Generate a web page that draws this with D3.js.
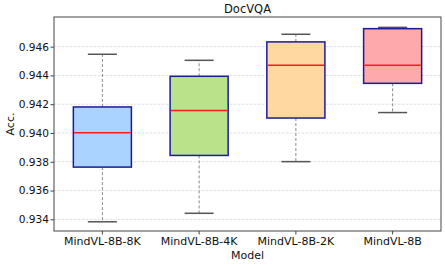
<!DOCTYPE html>
<html>
<head>
<meta charset="utf-8">
<script src="https://cdn.jsdelivr.net/npm/d3@7"></script>
<style>
body { margin: 0; background: #fff; }
</style>
</head>
<body>
<div id="chart"></div>
<script>
// data
var models = ["MindVL-8B-8K", "MindVL-8B-4K", "MindVL-8B-2K", "MindVL-8B"];
var whiskerLow  = [0.93383, 0.93442, 0.93801, 0.94142];
var q1          = [0.93763, 0.93844, 0.94104, 0.94345];
var median      = [0.94002, 0.94157, 0.94470, 0.94470];
var q3          = [0.94181, 0.94394, 0.94633, 0.94725];
var whiskerHigh = [0.94547, 0.94505, 0.94686, 0.94734];
var fills = ["#aad3ff", "#b8e38a", "#ffd7a0", "#ffaaaa"];
var yTicks = [0.934, 0.936, 0.938, 0.940, 0.942, 0.944, 0.946];

var W = 445, H = 265;
var margin = {left: 54, top: 17, right: 4, bottom: 34};

var svg = d3.select("#chart")
    .append("svg")
    .attr("width", W)
    .attr("height", H)
    .style("font-family", "DejaVu Sans");

var x = d3.scaleBand()
    .domain(models)
    .range([margin.left, W - margin.right])
    .paddingInner(0)
    .paddingOuter(0);

var y = d3.scaleLinear()
    .domain([0.93319, 0.94806])
    .range([H - margin.bottom, margin.top]);

// grid lines
svg.append("g")
    .selectAll("line")
    .data(yTicks)
    .join("line")
    .attr("x1", margin.left)
    .attr("x2", W - margin.right)
    .attr("y1", function(d) { return y(d); })
    .attr("y2", function(d) { return y(d); })
    .style("stroke", "#d4d4d4")
    .style("stroke-width", 0.8)
    .style("stroke-dasharray", "2.5,1.5");

// axes
var yAxis = svg.append("g")
    .attr("transform", "translate(" + margin.left + ",0)")
    .call(d3.axisLeft(y).tickValues(yTicks).tickFormat(d3.format(".3f")).tickSizeOuter(0).tickSize(3.5));

var xAxis = svg.append("g")
    .attr("transform", "translate(0," + (H - margin.bottom) + ")")
    .call(d3.axisBottom(x).tickSizeOuter(0).tickSize(3.5));

[yAxis, xAxis].forEach(function(a) {
  a.select(".domain").remove();
  a.selectAll("line").style("stroke", "#444");
  a.selectAll("text")
    .style("font-family", "DejaVu Sans")
    .style("fill", "#111");
});
yAxis.selectAll("text").attr("x", -5).style("font-size", "10.6px");
xAxis.selectAll("text").attr("y", 6).style("font-size", "11px");

var bw = x.bandwidth() * 0.6;

models.forEach(function(m, i) {
  var cx = x(m) + x.bandwidth() / 2;
  var g = svg.append("g");

  // whiskers
  g.append("line")
    .attr("x1", cx).attr("x2", cx)
    .attr("y1", y(q3[i])).attr("y2", y(whiskerHigh[i]))
    .style("stroke", "#888").style("stroke-width", 1).style("stroke-dasharray", "3,2");
  g.append("line")
    .attr("x1", cx).attr("x2", cx)
    .attr("y1", y(q1[i])).attr("y2", y(whiskerLow[i]))
    .style("stroke", "#888").style("stroke-width", 1).style("stroke-dasharray", "3,2");

  // caps
  [whiskerLow[i], whiskerHigh[i]].forEach(function(v) {
    g.append("line")
      .attr("x1", cx - bw / 4).attr("x2", cx + bw / 4)
      .attr("y1", y(v)).attr("y2", y(v))
      .style("stroke", "#555").style("stroke-width", 1.5);
  });

  // box
  g.append("rect")
    .attr("x", cx - bw / 2)
    .attr("y", y(q3[i]))
    .attr("width", bw)
    .attr("height", y(q1[i]) - y(q3[i]))
    .style("fill", fills[i])
    .style("stroke", "#1a1a9a")
    .style("stroke-width", 1.5);

  // median
  g.append("line")
    .attr("x1", cx - bw / 2 + 0.75).attr("x2", cx + bw / 2 - 0.75)
    .attr("y1", y(median[i])).attr("y2", y(median[i]))
    .style("stroke", "#ff1a1a").style("stroke-width", 1.5);
});

// frame
svg.append("rect")
    .attr("x", margin.left)
    .attr("y", margin.top)
    .attr("width", W - margin.right - margin.left)
    .attr("height", H - margin.bottom - margin.top)
    .style("fill", "none")
    .style("stroke", "#444")
    .style("stroke-width", 1);

// title and labels
svg.append("text")
    .attr("x", (margin.left + W - margin.right) / 2)
    .attr("y", 13)
    .attr("text-anchor", "middle")
    .style("font-size", "11.5px")
    .style("fill", "#111")
    .text("DocVQA");

svg.append("text")
    .attr("x", (margin.left + W - margin.right) / 2)
    .attr("y", 259)
    .attr("text-anchor", "middle")
    .style("font-size", "11px")
    .style("fill", "#111")
    .text("Model");

svg.append("text")
    .attr("transform", "translate(14," + ((margin.top + H - margin.bottom) / 2) + ") rotate(-90)")
    .attr("text-anchor", "middle")
    .style("font-size", "11px")
    .style("fill", "#111")
    .text("Acc.");
</script>
</body>
</html>
